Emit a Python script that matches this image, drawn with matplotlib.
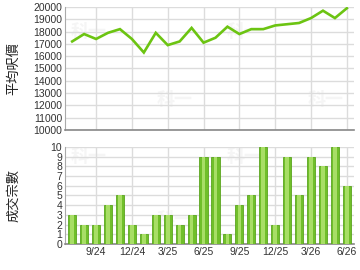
import matplotlib
matplotlib.use("Agg")
import matplotlib.pyplot as plt
import numpy as np

plt.rcParams['font.family'] = ['Liberation Sans', 'Noto Sans CJK TC', 'DejaVu Sans']

months = ['7/24', '8/24', '9/24', '10/24', '11/24', '12/24', '1/25', '2/25', '3/25', '4/25', '5/25', '6/25',
          '7/25', '8/25', '9/25', '10/25', '11/25', '12/25', '1/26', '2/26', '3/26', '4/26', '5/26', '6/26']
avg_price = [17200, 17800, 17400, 17900, 18200, 17400, 16300, 17900, 16900, 17200, 18300, 17100,
             17500, 18400, 17800, 18200, 18200, 18500, 18600, 18700, 19100, 19700, 19100, 19900]
deals = [3, 2, 2, 4, 5, 2, 1, 3, 3, 2, 3, 9, 9, 1, 4, 5, 10, 2, 9, 5, 9, 8, 10, 6]
tick_labels = ['9/24', '12/24', '3/25', '6/25', '9/25', '12/25', '3/26', '6/26']

x = np.arange(len(months))
tick_pos = [months.index(t) for t in tick_labels]

fig = plt.figure(figsize=(3.6, 2.7), dpi=100)
ax1 = fig.add_axes([0.1806, 0.5185, 0.8028, 0.4556])
ax2 = fig.add_axes([0.1806, 0.0963, 0.8028, 0.3593])

for ax in (ax1, ax2):
    ax.set_xlim(-0.6, len(months) - 0.4)
    ax.set_xticks(tick_pos)
    ax.grid(True, color='#dcdcdc', linewidth=1)
    ax.set_axisbelow(True)
    for s in ('top', 'right'):
        ax.spines[s].set_visible(False)
    ax.spines['left'].set_color('#aaaaaa')
    ax.spines['bottom'].set_color('#888888')
    ax.spines['bottom'].set_linewidth(1.2)
    ax.tick_params(length=0, labelsize=7.5, colors='#333333', pad=2)

# faint watermark
for ax, pts in ((ax1, [(0.08, 0.8), (0.38, 0.25), (0.62, 0.8), (0.9, 0.25)]),
                (ax2, [(0.08, 0.9), (0.38, 0.25), (0.62, 0.9), (0.9, 0.25)])):
    for px, py in pts:
        ax.text(px, py, '科一', transform=ax.transAxes, fontsize=13, color='#f5f5f5',
                family=['Noto Sans CJK TC'], ha='center', va='center', zorder=0.5, fontweight='bold')

ax1.plot(x, avg_price, color='#6cc412', linewidth=1.9, solid_joinstyle='miter', zorder=3)
ax1.set_ylim(10000, 20000)
ax1.set_yticks(range(10000, 20001, 1000))
ax1.set_xticklabels([])
ax1.set_ylabel('平均呎價', fontsize=9.5, family=['Noto Sans CJK TC'], color='#222222')
ax1.yaxis.set_label_coords(-0.155, 0.5)

ax2.bar(x, deals, width=0.68, color='#70bf2a', edgecolor='#5aa51e', linewidth=0.6, zorder=3)
ax2.bar(x, deals, width=0.3, color='#a8de66', linewidth=0, zorder=4)
ax2.set_ylim(0, 10)
ax2.set_yticks(range(0, 11))
ax2.set_xticklabels(tick_labels)
ax2.set_ylabel('成交宗數', fontsize=9.5, family=['Noto Sans CJK TC'], color='#222222')
ax2.yaxis.set_label_coords(-0.155, 0.5)

fig.savefig('out.png', dpi=100)
